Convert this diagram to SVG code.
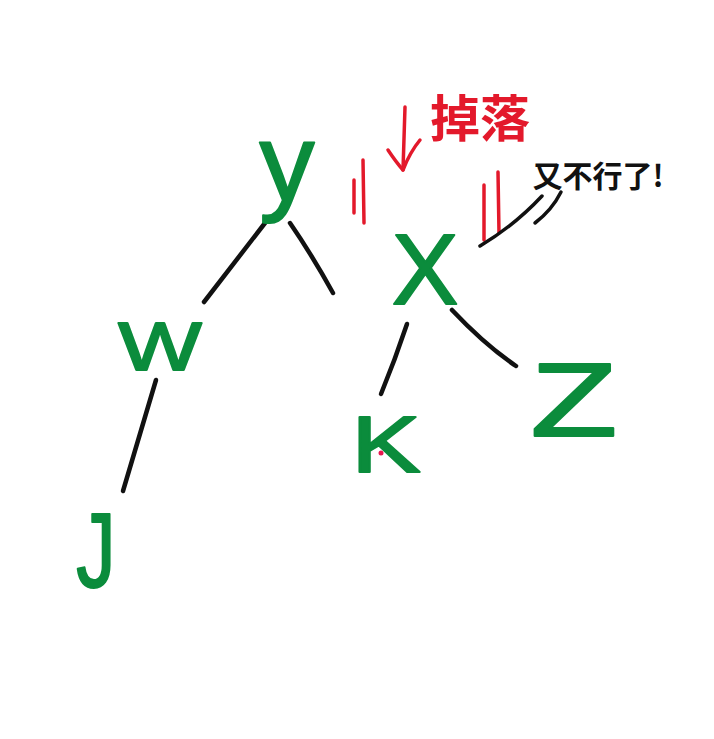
<svg xmlns="http://www.w3.org/2000/svg" width="714" height="739" viewBox="0 0 714 739">
<style>
.node text{font-family:"Liberation Sans",Arial,sans-serif;fill:#0b8c3c;stroke:#0b8c3c;stroke-width:2;stroke-linejoin:round;text-anchor:middle}
.edge{fill:none;stroke:#111;stroke-width:4.5;stroke-linecap:round}
.red{fill:none;stroke:#e3192b;stroke-width:3.5;stroke-linecap:round;stroke-linejoin:round}
.note{fill:none;stroke:#111;stroke-width:3.5;stroke-linecap:round}
</style>
<rect width="714" height="739" fill="#fff"/>
<g id="connectors">
<path class="edge" d="M265,223 L204,302"/>
<path class="edge" d="M290,223 Q312,255 333,293"/>
<path class="edge" d="M156,380 L123,491"/>
<path class="edge" d="M407,324 Q395,360 381,394"/>
<path class="edge" d="M452,310 Q485,345 516,366"/>
</g>
<g id="node-Y" class="node"><text x="287" y="200" font-size="110">y</text></g>
<g id="node-W" class="node"><text transform="translate(160,370) scale(1.3,1)" x="0" y="0" font-size="68">W</text></g>
<g id="node-X" class="node"><text x="425" y="304" font-size="100">X</text></g>
<g id="node-K" class="node"><text transform="translate(386,472) scale(1.3,1)" x="0" y="0" font-size="80">K</text></g>
<circle cx="381" cy="453" r="2.5" fill="#e8174f"/>
<g id="node-Z" class="node"><text transform="translate(574,436) scale(1.38,1)" x="0" y="0" font-size="103">Z</text></g>
<g id="node-J" class="node"><text transform="translate(96,587) scale(0.75,1)" x="0" y="0" font-size="105">J</text></g>
<g id="annotation-fall">
<path class="red" d="M405,107 L403,170"/>
<path class="red" d="M388,150 Q396,162 403,170 Q410,152 420,140"/>
<path class="red" d="M363,160 L364,223"/>
<path class="red" d="M354,180 L354,213"/>
<path class="red" d="M498,172 L499,233"/>
<path class="red" d="M484,185 L484,240"/>
<text x="480" y="137" font-size="50" font-weight="bold" text-anchor="middle" fill="#e3192b" font-family="'Noto Sans CJK SC',sans-serif">掉落</text>
</g>
<g id="annotation-note">
<path class="note" d="M480,246 Q515,225 542,196"/>
<path class="note" d="M535,223 Q552,210 561,192"/>
<text x="598" y="187" font-size="30" font-weight="bold" text-anchor="middle" fill="#111" font-family="'Noto Sans CJK SC',sans-serif">又不行了!</text>
</g>
</svg>
